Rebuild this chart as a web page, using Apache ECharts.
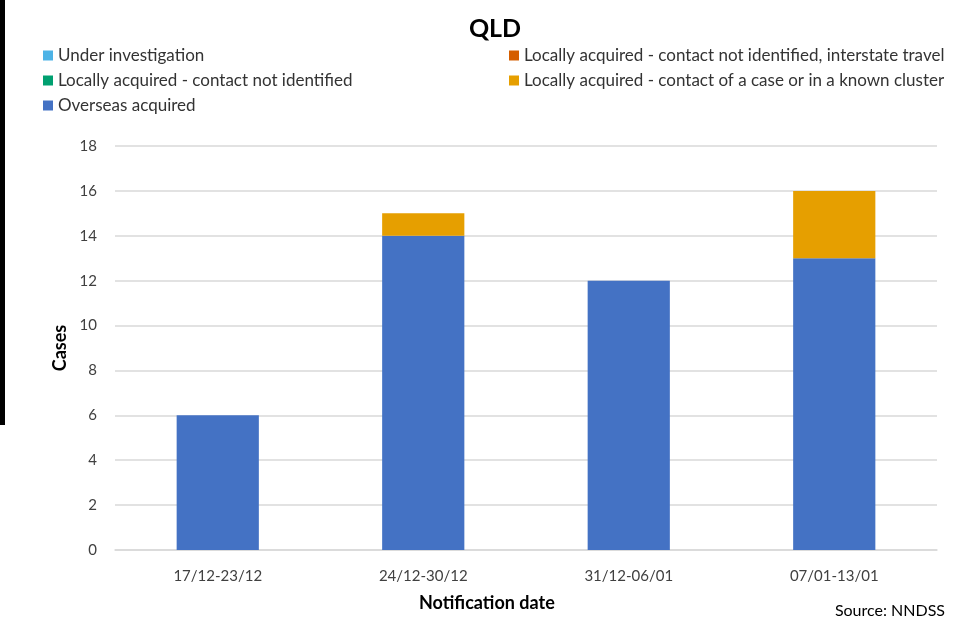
<!DOCTYPE html>
<html>
<head>
<meta charset="utf-8">
<script src="https://cdn.jsdelivr.net/npm/echarts@6/dist/echarts.min.js"></script>
<style>
  html, body { margin: 0; padding: 0; background: #fff; }
  #chart { width: 954px; height: 630px; }
</style>
</head>
<body>
<div id="chart"></div>
<script>
// weekly notification periods
var categories = ['17/12-23/12', '24/12-30/12', '31/12-06/01', '07/01-13/01'];
var underInvestigation = [0, 0, 0, 0];
var localNotIdentified = [0, 0, 0, 0];
var overseasAcquired = [6, 14, 12, 13];
var localInterstate = [0, 0, 0, 0];
var localContactCluster = [0, 1, 0, 3];
var yTicks = { min: 0, max: 18, interval: 2 };

var fontFam = 'Lato, "Open Sans", sans-serif';
var chart = echarts.init(document.getElementById('chart'));

function bar (name, data, color) {
  return {
    name: name,
    type: 'bar',
    stack: 'cases',
    barWidth: '40%',
    data: data,
    itemStyle: { color: color },
    emphasis: { disabled: true }
  }
}

var legendText = { fontSize: 17, color: '#333', fontFamily: fontFam };

var option = {
  animation: false,
  textStyle: { fontFamily: fontFam },
  title: {
    text: 'QLD',
    left: 490,
    top: 11,
    textAlign: 'center',
    textStyle: { fontSize: 25, fontWeight: 'bold', color: '#000', fontFamily: fontFam }
  },
  legend: [
    {
      orient: 'vertical',
      left: 38,
      top: 42,
      itemWidth: 10,
      itemHeight: 10,
      itemGap: 8,
      icon: 'rect',
      textStyle: legendText,
      data: ['Under investigation', 'Locally acquired - contact not identified', 'Overseas acquired']
    },
    {
      orient: 'vertical',
      left: 504,
      top: 42,
      itemWidth: 10,
      itemHeight: 10,
      itemGap: 8,
      icon: 'rect',
      textStyle: legendText,
      data: ['Locally acquired - contact not identified, interstate travel', 'Locally acquired - contact of a case or in a known cluster']
    }
  ],
  grid: { left: 115, right: 17, top: 146, bottom: 80 },
  xAxis: {
    type: 'category',
    data: categories,
    axisLine: { lineStyle: { color: '#d9d9d9', width: 1.5 } },
    axisTick: { show: false },
    axisLabel: { fontSize: 15, color: '#404040', margin: 19 }
  },
  yAxis: {
    type: 'value',
    min: yTicks.min,
    max: yTicks.max,
    interval: yTicks.interval,
    name: 'Cases',
    nameLocation: 'middle',
    nameGap: 44,
    nameRotate: 90,
    nameTextStyle: { fontSize: 18, fontWeight: 'bold', color: '#000', fontFamily: fontFam },
    axisLine: { show: false },
    axisTick: { show: false },
    axisLabel: { fontSize: 15, color: '#404040', margin: 18 },
    splitLine: { lineStyle: { color: '#d9d9d9', width: 1.5 } }
  },
  series: [
    bar('Under investigation', underInvestigation, '#4db3e6'),
    bar('Locally acquired - contact not identified', localNotIdentified, '#00a070'),
    bar('Overseas acquired', overseasAcquired, '#4472c4'),
    bar('Locally acquired - contact not identified, interstate travel', localInterstate, '#d55e00'),
    bar('Locally acquired - contact of a case or in a known cluster', localContactCluster, '#e69f00')
  ],
  graphic: [
    {
      // x axis title sits left of the plot centre in the source
      type: 'text',
      left: 419,
      top: 594,
      style: { text: 'Notification date', fontSize: 18, fontWeight: 'bold', fill: '#000', fontFamily: fontFam }
    },
    {
      type: 'text',
      right: 9,
      top: 603,
      style: { text: 'Source: NNDSS', fontSize: 16, fill: '#000', fontFamily: fontFam }
    },
    {
      // dark strip along the left edge of the source image
      type: 'rect',
      left: 0,
      top: 0,
      shape: { width: 5, height: 425 },
      style: { fill: '#000' }
    }
  ]
};

chart.setOption(option);
</script>
</body>
</html>
